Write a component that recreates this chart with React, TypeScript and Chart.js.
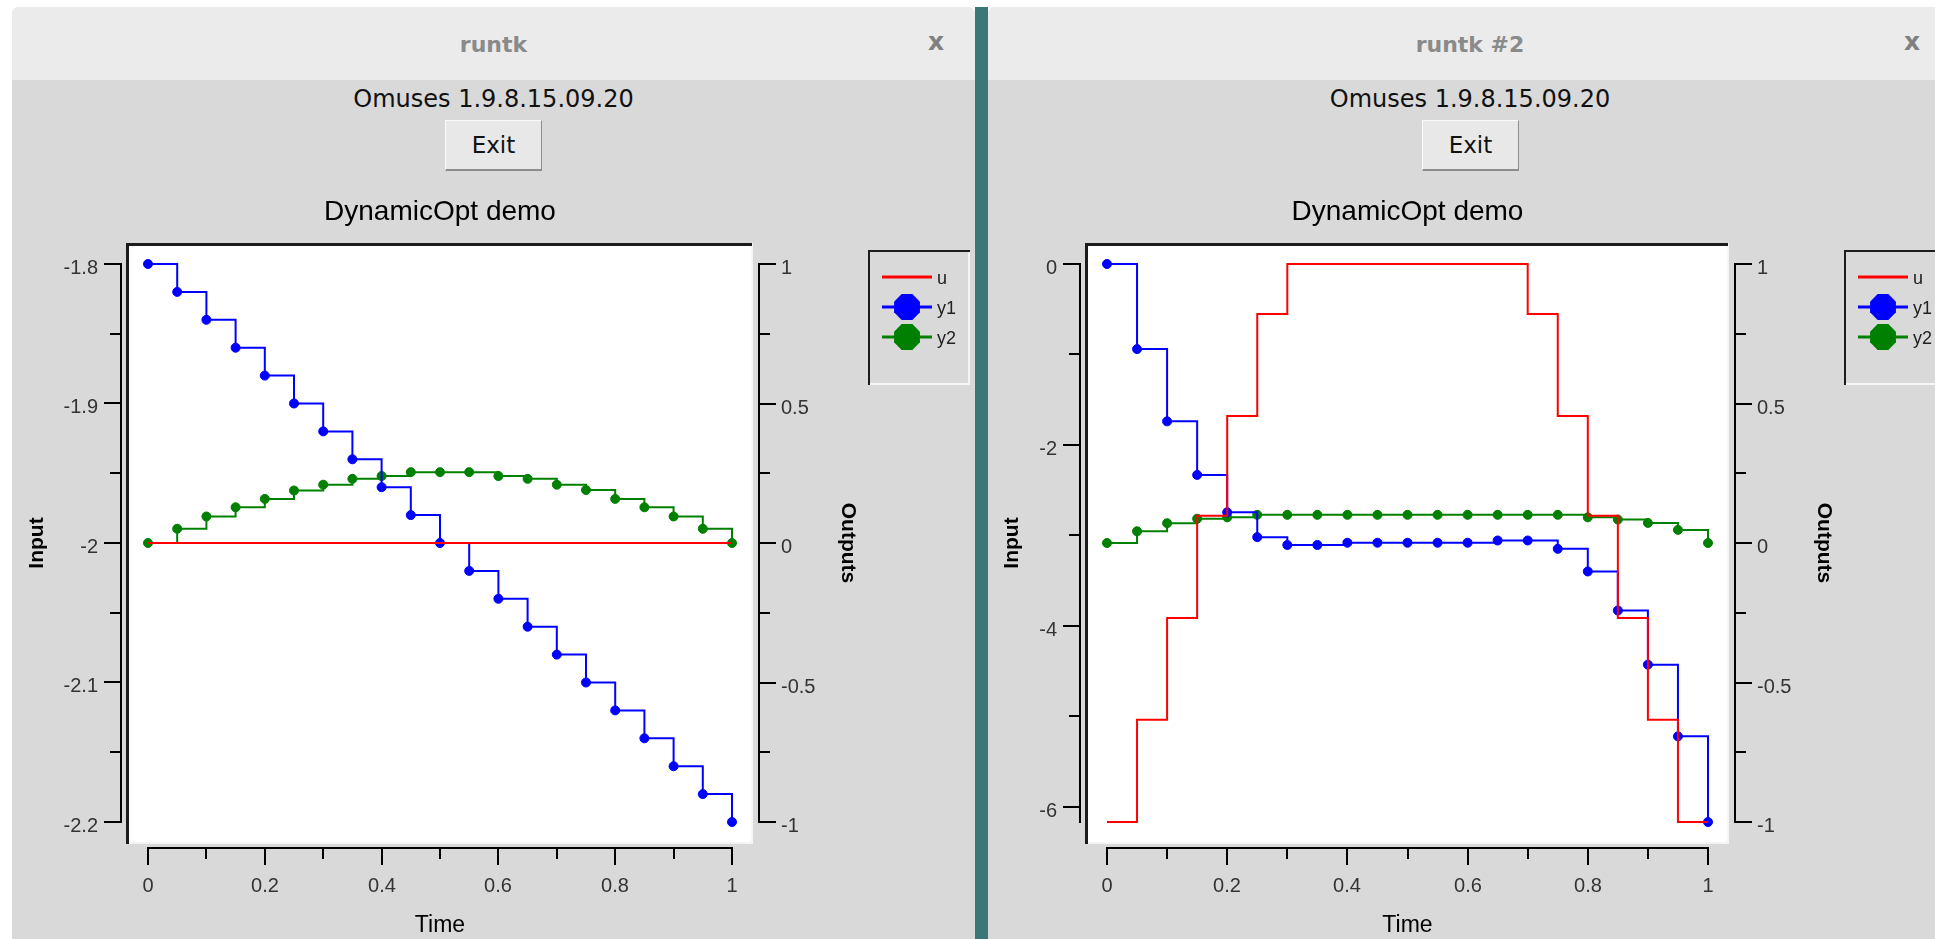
import React, { useEffect, useRef } from 'react';
import { Chart, registerables } from 'chart.js';

Chart.register(...registerables);

// ---------------- data ----------------
const time = [0, 0.05, 0.1, 0.15, 0.2, 0.25, 0.3, 0.35, 0.4, 0.45, 0.5, 0.55, 0.6, 0.65, 0.7, 0.75, 0.8, 0.85, 0.9, 0.95, 1];

const leftU = [-2, -2, -2, -2, -2, -2, -2, -2, -2, -2, -2, -2, -2, -2, -2, -2, -2, -2, -2, -2, -2];
const leftY1 = [1, 0.9, 0.8, 0.7, 0.6, 0.5, 0.4, 0.3, 0.2, 0.1, 0, -0.1, -0.2, -0.3, -0.4, -0.5, -0.6, -0.7, -0.8, -0.9, -1];
const leftY2 = [0, 0.051, 0.095, 0.128, 0.158, 0.188, 0.209, 0.23, 0.24, 0.254, 0.254, 0.254, 0.24, 0.23, 0.209, 0.19, 0.158, 0.128, 0.095, 0.051, 0];

const rightU = [-6.17, -5.04, -3.915, -2.785, -1.68, -0.553, 0, 0, 0, 0, 0, 0, 0, 0, -0.553, -1.68, -2.785, -3.915, -5.04, -6.17, -6.17];
const rightY1 = [1, 0.695, 0.436, 0.244, 0.11, 0.021, -0.007, -0.007, 0.001, 0.001, 0.001, 0.001, 0.001, 0.009, 0.009, -0.021, -0.102, -0.242, -0.436, -0.693, -1];
const rightY2 = [0, 0.042, 0.071, 0.087, 0.092, 0.101, 0.101, 0.101, 0.101, 0.101, 0.101, 0.101, 0.101, 0.101, 0.101, 0.101, 0.092, 0.084, 0.072, 0.047, 0];

const seriesLabels = ['u', 'y1', 'y2'];
const seriesColors = ['#ff0000', '#0000ff', '#008000'];

const timeRange = [0, 1];
const timeMajorTicks = [0, 0.2, 0.4, 0.6, 0.8, 1];
const timeMinorTicks = [0.1, 0.3, 0.5, 0.7, 0.9];

const leftInputRange = [-2.2, -1.8];
const leftInputMajorTicks = [-1.8, -1.9, -2, -2.1, -2.2];
const leftInputMinorTicks = [-1.85, -1.95, -2.05, -2.15];

const rightInputMajorTicks = [0, -2, -4, -6];
const rightInputMinorTicks = [-1, -3, -5];

const outputRange = [-1, 1];
const outputMajorTicks = [1, 0.5, 0, -0.5, -1];
const outputMinorTicks = [0.75, 0.25, -0.25, -0.75];

const windowTitles = ['runtk', 'runtk #2'];
const versionText = 'Omuses 1.9.8.15.09.20';
const chartTitle = 'DynamicOpt demo';
const xTitle = 'Time';
const yLeftTitle = 'Input';
const yRightTitle = 'Outputs';

// ---------------- styling ----------------
const HELV = '"Liberation Sans", Arial, Helvetica, sans-serif';
const TK = '"DejaVu Sans", sans-serif';
const TICK_FONT = `20px ${HELV}`;
const AXIS_TITLE_FONT = `bold 21px ${HELV}`;
const TIME_FONT = `23px ${HELV}`;
const LEGEND_FONT = `18px ${HELV}`;

function octagon(ctx: CanvasRenderingContext2D, cx: number, cy: number, r: number) {
  ctx.beginPath();
  for (let k = 0; k < 8; k++) {
    const ang = Math.PI / 8 + (k * Math.PI) / 4;
    const px = cx + r * Math.cos(ang);
    const py = cy + r * Math.sin(ang);
    if (k === 0) ctx.moveTo(px, py);
    else ctx.lineTo(px, py);
  }
  ctx.closePath();
  ctx.fill();
}

function makeDecor(cfg: any) {
  return {
    id: 'decor',
    beforeDraw(chart: any) {
      const ctx: CanvasRenderingContext2D = chart.ctx;
      const a = chart.chartArea;
      ctx.save();
      // sunken white plot frame
      ctx.fillStyle = '#ffffff';
      ctx.fillRect(a.left - 19, a.top - 18, a.right - a.left + 38, a.bottom - a.top + 38);
      ctx.fillStyle = '#f4f4f4';
      ctx.fillRect(a.left - 22, a.bottom + 20, a.right - a.left + 43, 2);
      ctx.fillRect(a.right + 19, a.top - 21, 2, a.bottom - a.top + 43);
      ctx.fillStyle = '#1c1c1c';
      ctx.fillRect(a.left - 22, a.top - 21, a.right - a.left + 42, 3);
      ctx.fillRect(a.left - 22, a.top - 21, 3, a.bottom - a.top + 43);
      ctx.restore();
    },
    afterDraw(chart: any) {
      const ctx: CanvasRenderingContext2D = chart.ctx;
      const a = chart.chartArea;
      const xs = chart.scales.x;
      const yIn = chart.scales.yIn;
      const yOut = chart.scales.yOut;
      ctx.save();
      ctx.lineCap = 'butt';
      ctx.strokeStyle = '#000';
      ctx.lineWidth = 2;

      // ---- left (Input) axis ----
      const axL = a.left - 27;
      ctx.beginPath();
      ctx.moveTo(axL, a.top - 1);
      ctx.lineTo(axL, a.bottom + 1);
      cfg.inMajor.forEach((v: number) => {
        const y = Math.round(yIn.getPixelForValue(v));
        ctx.moveTo(axL, y);
        ctx.lineTo(axL - 17, y);
      });
      cfg.inMinor.forEach((v: number) => {
        const y = Math.round(yIn.getPixelForValue(v));
        ctx.moveTo(axL, y);
        ctx.lineTo(axL - 11, y);
      });
      // ---- right (Outputs) axis ----
      const axR = a.right + 27;
      ctx.moveTo(axR, a.top - 1);
      ctx.lineTo(axR, a.bottom + 1);
      outputMajorTicks.forEach((v) => {
        const y = Math.round(yOut.getPixelForValue(v));
        ctx.moveTo(axR, y);
        ctx.lineTo(axR + 17, y);
      });
      outputMinorTicks.forEach((v) => {
        const y = Math.round(yOut.getPixelForValue(v));
        ctx.moveTo(axR, y);
        ctx.lineTo(axR + 11, y);
      });
      // ---- bottom (Time) axis ----
      const axB = a.bottom + 26;
      ctx.moveTo(a.left - 1, axB);
      ctx.lineTo(a.right + 1, axB);
      timeMajorTicks.forEach((v) => {
        const x = Math.round(xs.getPixelForValue(v));
        ctx.moveTo(x, axB);
        ctx.lineTo(x, axB + 17);
      });
      timeMinorTicks.forEach((v) => {
        const x = Math.round(xs.getPixelForValue(v));
        ctx.moveTo(x, axB);
        ctx.lineTo(x, axB + 11);
      });
      ctx.stroke();

      // ---- tick labels ----
      ctx.font = TICK_FONT;
      ctx.fillStyle = '#333';
      ctx.textBaseline = 'alphabetic';
      ctx.textAlign = 'right';
      let wL = 0;
      cfg.inMajor.forEach((v: number) => {
        const y = Math.round(yIn.getPixelForValue(v));
        const s = String(v);
        ctx.fillText(s, axL - 23, y + 10);
        wL = Math.max(wL, ctx.measureText(s).width);
      });
      ctx.textAlign = 'left';
      let wR = 0;
      outputMajorTicks.forEach((v) => {
        const y = Math.round(yOut.getPixelForValue(v));
        const s = String(v);
        ctx.fillText(s, axR + 22, y + 10);
        wR = Math.max(wR, ctx.measureText(s).width);
      });
      ctx.textAlign = 'center';
      timeMajorTicks.forEach((v) => {
        const x = Math.round(xs.getPixelForValue(v));
        ctx.fillText(String(v), x, a.bottom + 70);
      });

      // ---- axis titles ----
      ctx.fillStyle = '#000';
      ctx.font = TIME_FONT;
      ctx.textAlign = 'center';
      ctx.fillText(xTitle, (a.left + a.right) / 2, a.bottom + 110);

      const midY = (a.top + a.bottom) / 2;
      ctx.font = AXIS_TITLE_FONT;
      ctx.textBaseline = 'middle';
      ctx.save();
      ctx.translate(Math.round(axL - 23 - wL - 27), midY);
      ctx.rotate(-Math.PI / 2);
      ctx.fillText(yLeftTitle, 0, 0);
      ctx.restore();
      ctx.save();
      ctx.translate(Math.round(axR + 22 + wR + 33), midY);
      ctx.rotate(Math.PI / 2);
      ctx.fillText(yRightTitle, 0, 0);
      ctx.restore();

      // ---- legend ----
      const lx = a.right + 136;
      const ly = a.top - 14;
      const lw = 102;
      const lh = 135;
      ctx.fillStyle = '#f6f6f6';
      ctx.fillRect(lx, ly + lh - 2, lw, 2);
      ctx.fillRect(lx + lw - 2, ly, 2, lh);
      ctx.fillStyle = '#1c1c1c';
      ctx.fillRect(lx, ly, lw, 2);
      ctx.fillRect(lx, ly, 2, lh);
      ctx.font = LEGEND_FONT;
      ctx.textAlign = 'left';
      ctx.textBaseline = 'alphabetic';
      chart.data.datasets.forEach((ds: any, i: number) => {
        const y = ly + 27 + i * 30;
        ctx.strokeStyle = ds.borderColor;
        ctx.lineWidth = 3;
        ctx.beginPath();
        ctx.moveTo(lx + 14, y);
        ctx.lineTo(lx + 64, y);
        ctx.stroke();
        if (ds.pointRadius > 0) {
          ctx.fillStyle = ds.borderColor;
          octagon(ctx, lx + 39, y, 14);
        }
        ctx.fillStyle = '#222';
        ctx.fillText(ds.label, lx + 69, y + 7);
      });
      ctx.restore();
    },
  };
}

function DemoChart({ width, padLeft, padRight, u, y1, y2, inRange, inMajor, inMinor }: any) {
  const ref = useRef<HTMLCanvasElement>(null);
  useEffect(() => {
    if (!ref.current) return;
    const mk = (vals: number[]) => time.map((t, i) => ({ x: t, y: vals[i] }));
    const common = { stepped: true, borderWidth: 2, clip: false, pointBorderWidth: 1, pointHoverRadius: 0 };
    const chart = new Chart(ref.current, {
      type: 'line',
      data: {
        datasets: [
          { ...common, label: seriesLabels[0], data: mk(u), yAxisID: 'yIn', borderColor: seriesColors[0], backgroundColor: seriesColors[0], pointRadius: 0 },
          { ...common, label: seriesLabels[1], data: mk(y1), yAxisID: 'yOut', borderColor: seriesColors[1], backgroundColor: seriesColors[1], pointBackgroundColor: seriesColors[1], pointBorderColor: seriesColors[1], pointRadius: 4.5 },
          { ...common, label: seriesLabels[2], data: mk(y2), yAxisID: 'yOut', borderColor: seriesColors[2], backgroundColor: seriesColors[2], pointBackgroundColor: seriesColors[2], pointBorderColor: seriesColors[2], pointRadius: 4.5 },
        ],
      } as any,
      options: {
        responsive: false,
        animation: false,
        events: [],
        layout: { padding: { left: padLeft, right: padRight, top: 13, bottom: 117 } },
        plugins: {
          legend: { display: false },
          tooltip: { enabled: false },
          title: {
            display: true,
            text: chartTitle,
            fullSize: false,
            color: '#000',
            font: { family: '"Liberation Sans", Arial, sans-serif', size: 28, weight: 'normal', lineHeight: 1 },
            padding: { top: 0, bottom: 38 },
          },
        },
        scales: {
          x: { type: 'linear', min: timeRange[0], max: timeRange[1], display: false },
          yIn: { type: 'linear', position: 'left', min: inRange[0], max: inRange[1], display: false },
          yOut: { type: 'linear', position: 'right', min: outputRange[0], max: outputRange[1], display: false },
        },
      } as any,
      plugins: [makeDecor({ inMajor, inMinor })],
    });
    return () => chart.destroy();
  }, []);
  return (
    <canvas
      ref={ref}
      width={width}
      height={754}
      style={{ position: 'absolute', left: 0, top: 178, width, height: 754 }}
    />
  );
}

function AppWindow({ left, width, title, children }: any) {
  return (
    <div
      style={{
        position: 'absolute', left, top: 7, width, height: 932, background: '#d9d9d9',
        borderTopLeftRadius: 7, borderTopRightRadius: 7, overflow: 'hidden',
      }}
    >
      <div style={{ position: 'absolute', left: 0, top: 0, width, height: 73, background: '#ebebeb' }} />
      <div style={{ position: 'absolute', left: 0, top: 27, width, textAlign: 'center', fontFamily: TK, fontWeight: 'bold', fontSize: 22, lineHeight: '22px', color: '#8a8a8a', whiteSpace: 'nowrap' }}>{title}</div>
      <div style={{ position: 'absolute', left: 904, top: 22, width: 40, textAlign: 'center', fontFamily: TK, fontWeight: 'bold', fontSize: 25, lineHeight: '25px', color: '#808080' }}>x</div>
      <div style={{ position: 'absolute', left: 0, top: 80, width, textAlign: 'center', fontFamily: TK, fontSize: 24, lineHeight: '24px', color: '#111', whiteSpace: 'nowrap' }}>{versionText}</div>
      <div
        style={{
          position: 'absolute', left: Math.round(width / 2 - 48.5), top: 113, width: 97, height: 51, boxSizing: 'border-box',
          background: '#e8e8e8', borderTop: '1px solid #fbfbfb', borderLeft: '1px solid #fbfbfb',
          borderRight: '1px solid #8c8c8c', borderBottom: '2px solid #8c8c8c',
          fontFamily: TK, fontSize: 23, lineHeight: '48px', textAlign: 'center', color: '#111',
        }}
      >
        Exit
      </div>
      {children}
    </div>
  );
}

export default function App() {
  return (
    <div style={{ position: 'fixed', left: 0, top: 0, width: 1935, height: 939, background: '#ffffff', overflow: 'hidden' }}>
      <div style={{ position: 'absolute', left: 975, top: 7, width: 13, height: 932, background: '#3a7878' }} />
      <AppWindow left={12} width={963} title={windowTitles[0]}>
        <DemoChart
          width={963}
          padLeft={136}
          padRight={243}
          u={leftU}
          y1={leftY1}
          y2={leftY2}
          inRange={leftInputRange}
          inMajor={leftInputMajorTicks}
          inMinor={leftInputMinorTicks}
        />
      </AppWindow>
      <AppWindow left={988} width={964} title={windowTitles[1]}>
        <DemoChart
          width={964}
          padLeft={119}
          padRight={244}
          u={rightU}
          y1={rightY1}
          y2={rightY2}
          inRange={[Math.min(...rightU), Math.max(...rightU)]}
          inMajor={rightInputMajorTicks}
          inMinor={rightInputMinorTicks}
        />
      </AppWindow>
    </div>
  );
}
